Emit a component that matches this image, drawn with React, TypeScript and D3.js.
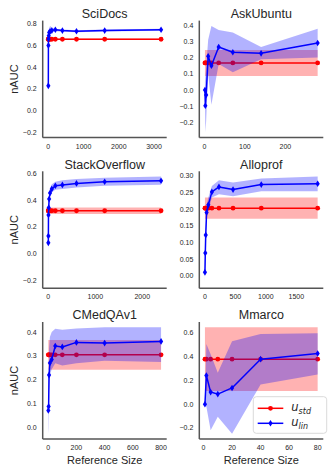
import React from "react";
import * as d3 from "d3";

// panel titles, in grid order (row by row)
const titles = ["SciDocs", "AskUbuntu", "StackOverflow", "Alloprof", "CMedQAv1", "Mmarco"];

// reference sizes per dataset
const sciX = [1, 3, 6, 12, 25, 50, 100, 200, 400, 800, 1600, 3200];
const askX = [1, 2, 4, 9, 17, 35, 70, 140, 280];
const stackX = [1, 2, 4, 9, 18, 37, 75, 150, 300, 600, 1200, 2400];
const alloX = [1, 7, 14, 28, 57, 115, 231, 462, 925, 1850];
const cmedX = [1, 3, 6, 12, 25, 50, 100, 200, 400, 800];
const mmX = [1, 2, 5, 10, 20, 40, 80];

// u_lin mean and band (low / high)
const sciLin = [0.228, 0.6, 0.66, 0.69, 0.72, 0.73, 0.737, 0.745, 0.737, 0.731, 0.737, 0.745];
const sciLo = [-0.2, 0.55, 0.63, 0.67, 0.7, 0.712, 0.722, 0.73, 0.727, 0.722, 0.728, 0.735];
const sciHi = [0.62, 0.68, 0.71, 0.73, 0.76, 0.78, 0.765, 0.755, 0.747, 0.741, 0.746, 0.755];

const askLin = [0.0, -0.097, -0.03, 0.208, 0.15, 0.265, 0.233, 0.226, 0.29];
const askLo = [-0.05, -0.26, -0.19, 0.1, -0.09, 0.16, 0.11, 0.19, 0.2];
const askHi = [0.05, 0.08, 0.14, 0.31, 0.395, 0.37, 0.355, 0.265, 0.377];

const stackLin = [0.081, 0.132, 0.29, 0.345, 0.41, 0.455, 0.486, 0.509, 0.516, 0.527, 0.54, 0.547];
const stackLo = [-0.22, -0.1, 0.2, 0.3, 0.38, 0.43, 0.46, 0.48, 0.485, 0.497, 0.51, 0.517];
const stackHi = [0.3, 0.33, 0.37, 0.39, 0.44, 0.49, 0.52, 0.54, 0.55, 0.56, 0.57, 0.578];

const alloLin = [0.01, 0.068, 0.122, 0.19, 0.213, 0.252, 0.267, 0.259, 0.274, 0.2765];
const alloLo = [-0.022, 0.045, 0.1, 0.17, 0.195, 0.235, 0.245, 0.239, 0.254, 0.254];
const alloHi = [0.045, 0.092, 0.145, 0.21, 0.235, 0.27, 0.287, 0.28, 0.292, 0.298];

const cmedLin = [0.072, 0.089, 0.22, 0.271, 0.285, 0.342, 0.338, 0.357, 0.354, 0.361];
const cmedLo = [-0.025, 0.0, 0.15, 0.22, 0.245, 0.27, 0.26, 0.27, 0.28, 0.275];
const cmedHi = [0.12, 0.2, 0.33, 0.38, 0.4, 0.414, 0.41, 0.415, 0.42, 0.42];

const mmLin = [0.0, 0.242, 0.102, 0.085, 0.137, 0.379, 0.427];
const mmLo = [-0.01, -0.02, -0.22, -0.106, -0.248, 0.165, 0.25];
const mmHi = [0.01, 0.507, 0.42, 0.265, 0.53, 0.59, 0.598];

// u_std: constant mean and half-width of its band
const stdMean = [0.657, 0.167, 0.322, 0.203, 0.305, 0.379];
const stdSpread = [0.007, 0.08, 0.025, 0.032, 0.062, 0.268];

// tick values
const yTicks = [
  [-0.2, 0, 0.2, 0.4, 0.6, 0.8],
  [-0.2, -0.1, 0, 0.1, 0.2, 0.3, 0.4],
  [-0.2, 0, 0.2, 0.4, 0.6],
  [0, 0.05, 0.1, 0.15, 0.2, 0.25, 0.3],
  [0, 0.1, 0.2, 0.3, 0.4],
  [-0.2, 0, 0.2, 0.4, 0.6],
];
const xTicks = [
  [0, 1000, 2000, 3000],
  [0, 100, 200],
  [0, 1000, 2000],
  [0, 500, 1000, 1500],
  [0, 200, 400, 600, 800],
  [0, 20, 40, 60, 80],
];
const yFormats = [".1f", ".1f", ".1f", ".2f", ".1f", ".1f"];

const allX = [sciX, askX, stackX, alloX, cmedX, mmX];
const allLin = [sciLin, askLin, stackLin, alloLin, cmedLin, mmLin];
const allLo = [sciLo, askLo, stackLo, alloLo, cmedLo, mmLo];
const allHi = [sciHi, askHi, stackHi, alloHi, cmedHi, mmHi];

const W = 332;
const H = 475;
const colLeft = [42.7, 199.3];
const rowTop = [20.6, 171.3, 322];
const pw = 124;
const ph = 117;
const FONT = "'Liberation Sans', Arial, sans-serif";
const RED = "#ff0000";
const BLUE = "#0000ff";
const SPINE = "#555";
const TXT = "#262626";

// matplotlib style 5% margins
const padded = (ext: [number, number]): [number, number] => {
  const m = (ext[1] - ext[0]) * 0.05;
  return [ext[0] - m, ext[1] + m];
};

const diamond = "M0,-3.3L2.1,0L0,3.3L-2.1,0Z";

function Panel({ i }: { i: number }) {
  const col = i % 2;
  const row = Math.floor(i / 2);
  const left = colLeft[col];
  const top = rowTop[row];
  const xs = allX[i];
  const lin = allLin[i];
  const lo = allLo[i];
  const hi = allHi[i];
  const sm = stdMean[i];
  const ss = stdSpread[i];

  const x = d3.scaleLinear().domain(padded(d3.extent(xs) as [number, number])).range([left, left + pw]);
  const yvals = [...lo, ...hi, ...lin, sm - ss, sm + ss];
  const y = d3.scaleLinear().domain(padded(d3.extent(yvals) as [number, number])).range([top + ph, top]);

  const idx = xs.map((_, k) => k);
  const linArea = d3.area<number>().x((k) => x(xs[k])).y0((k) => y(lo[k])).y1((k) => y(hi[k]))(idx) || "";
  const linLine = d3.line<number>().x((k) => x(xs[k])).y((k) => y(lin[k]))(idx) || "";
  const stdArea = d3.area<number>().x((k) => x(xs[k])).y0(() => y(sm - ss)).y1(() => y(sm + ss))(idx) || "";
  const stdLine = d3.line<number>().x((k) => x(xs[k])).y(() => y(sm))(idx) || "";
  const yf = d3.format(yFormats[i]);

  return (
    <g>
      <text x={left + pw / 2} y={top - 2.6} textAnchor="middle" fontSize={12.5} fill={TXT} fontFamily={FONT}>
        {titles[i]}
      </text>
      <path d={stdArea} fill={RED} fillOpacity={0.3} />
      <path d={stdLine} fill="none" stroke={RED} strokeWidth={1.5} />
      {xs.map((v, k) => (
        <circle key={"r" + k} cx={x(v)} cy={y(sm)} r={2.4} fill={RED} />
      ))}
      <path d={linArea} fill={BLUE} fillOpacity={0.3} />
      <path d={linLine} fill="none" stroke={BLUE} strokeWidth={1.5} strokeLinejoin="round" />
      {xs.map((v, k) => (
        <path key={"b" + k} d={diamond} transform={`translate(${x(v)},${y(lin[k])})`} fill={BLUE} />
      ))}
      <line x1={left} x2={left} y1={top} y2={top + ph} stroke={SPINE} strokeWidth={1.5} />
      <line x1={left} x2={left + pw} y1={top + ph} y2={top + ph} stroke={SPINE} strokeWidth={1.5} />
      {yTicks[i].map((t) => (
        <text key={"y" + t} x={left - 6} y={y(t)} dy="0.35em" textAnchor="end" fontSize={7} fill={TXT} fontFamily={FONT}>
          {yf(t)}
        </text>
      ))}
      {xTicks[i].map((t) => (
        <text key={"x" + t} x={x(t)} y={top + ph + 11} textAnchor="middle" fontSize={7} fill={TXT} fontFamily={FONT}>
          {t}
        </text>
      ))}
      {col === 0 && (
        <text
          transform={`translate(${17.5},${top + ph / 2}) rotate(-90)`}
          textAnchor="middle"
          fontSize={11}
          fill={TXT}
          fontFamily={FONT}
        >
          nAUC
        </text>
      )}
      {row === 2 && (
        <text x={left + pw / 2} y={463.5} textAnchor="middle" fontSize={11} fill={TXT} fontFamily={FONT}>
          Reference Size
        </text>
      )}
    </g>
  );
}

function Legend() {
  const lx = 253.3;
  const ly = 396.7;
  const rows = [
    { c: RED, sub: "std", circle: true },
    { c: BLUE, sub: "lin", circle: false },
  ];
  return (
    <g>
      <rect x={lx} y={ly} width={73.4} height={36.6} rx={3} fill="#fff" fillOpacity={0.8} stroke="#d0d0d0" strokeWidth={0.8} />
      {rows.map((r, k) => {
        const cy = ly + 11.6 + k * 15;
        return (
          <g key={r.sub}>
            <line x1={lx + 4.4} x2={lx + 30} y1={cy} y2={cy} stroke={r.c} strokeWidth={1.5} />
            {r.circle ? (
              <circle cx={lx + 17.2} cy={cy} r={2.4} fill={r.c} />
            ) : (
              <path d={diamond} transform={`translate(${lx + 17.2},${cy})`} fill={r.c} />
            )}
            <text x={lx + 38} y={cy + 3} fontSize={11.5} fill={TXT} fontFamily="'DejaVu Sans', sans-serif" fontStyle="italic">
              u
              <tspan fontSize={8} dy={2.5}>
                {r.sub}
              </tspan>
            </text>
          </g>
        );
      })}
    </g>
  );
}

export default function App() {
  return (
    <svg width={W} height={H} style={{ position: "absolute", left: 0, top: 0, background: "#fff" }}>
      {titles.map((_, i) => (
        <Panel key={i} i={i} />
      ))}
      <Legend />
    </svg>
  );
}
